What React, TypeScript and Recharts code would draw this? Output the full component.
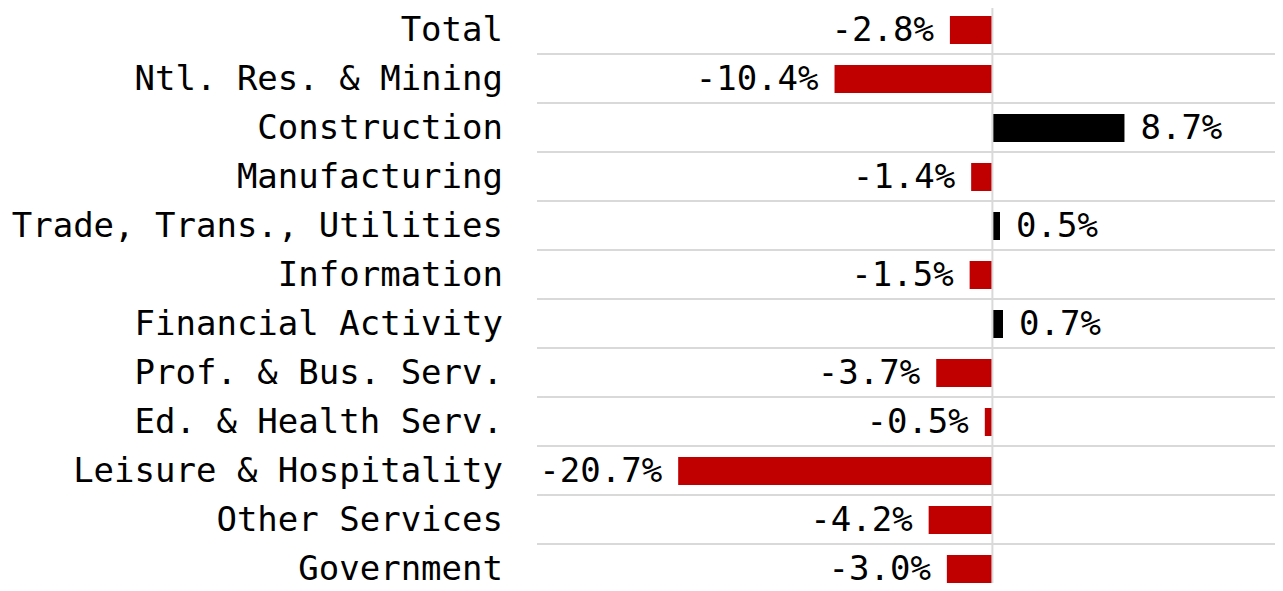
import { BarChart, Bar, XAxis, YAxis, CartesianGrid, ReferenceLine, LabelList, Cell } from "recharts";

const categories = [
  "Total",
  "Ntl. Res. & Mining",
  "Construction",
  "Manufacturing",
  "Trade, Trans., Utilities",
  "Information",
  "Financial Activity",
  "Prof. & Bus. Serv.",
  "Ed. & Health Serv.",
  "Leisure & Hospitality",
  "Other Services",
  "Government",
];
const changes = [-2.8, -10.4, 8.7, -1.4, 0.5, -1.5, 0.7, -3.7, -0.5, -20.7, -4.2, -3.0];

const data = categories.map((name, i) => ({ name, value: changes[i] }));

const FONT = "'DejaVu Sans Mono', monospace";
const RED = "#C00000";

const ValueLabel = (props: any) => {
  const { x, y, width, height, value } = props;
  const left = Math.min(x, x + width);
  const right = Math.max(x, x + width);
  const neg = value < 0;
  return (
    <text
      x={neg ? left - 16 : right + 16}
      y={y + height / 2 - 1}
      textAnchor={neg ? "end" : "start"}
      dominantBaseline="central"
      fontFamily={FONT}
      fontSize={34}
      fill="#000"
    >
      {`${value.toFixed(1)}%`}
    </text>
  );
};

const CategoryTick = ({ x, y, payload }: any) => (
  <text
    x={x}
    y={y - 1}
    textAnchor="end"
    dominantBaseline="central"
    fontFamily={FONT}
    fontSize={34}
    fill="#000"
  >
    {payload.value}
  </text>
);

// horizontal gridlines sit on the band boundaries, not the centres
const boundaryLines = ({ offset }: any) => {
  const step = offset.height / categories.length;
  const pts: number[] = [];
  for (let i = 0; i <= categories.length; i++) pts.push(offset.top + i * step);
  return pts;
};

export default function App() {
  return (
    <div style={{ margin: -8, width: 1283, height: 591, overflow: "hidden", background: "#fff" }}>
      <BarChart
        width={1296}
        height={593}
        data={data}
        layout="vertical"
        margin={{ top: 5, right: 0, bottom: 0, left: 0 }}
      >
        <CartesianGrid
          vertical={false}
          stroke="#d9d9d9"
          strokeWidth={2}
          horizontalCoordinatesGenerator={boundaryLines}
        />
        <XAxis type="number" domain={[-30, 20]} hide />
        <YAxis
          type="category"
          dataKey="name"
          width={537}
          axisLine={false}
          tickLine={false}
          tickSize={0}
          tickMargin={34}
          interval={0}
          tick={<CategoryTick />}
        />
        <ReferenceLine x={0} stroke="#d9d9d9" strokeWidth={2} />
        <Bar dataKey="value" isAnimationActive={false} barSize={28}>
          {data.map((d, i) => (
            <Cell key={i} fill={d.value < 0 ? RED : "#000"} />
          ))}
          <LabelList dataKey="value" content={<ValueLabel />} />
        </Bar>
      </BarChart>
    </div>
  );
}
